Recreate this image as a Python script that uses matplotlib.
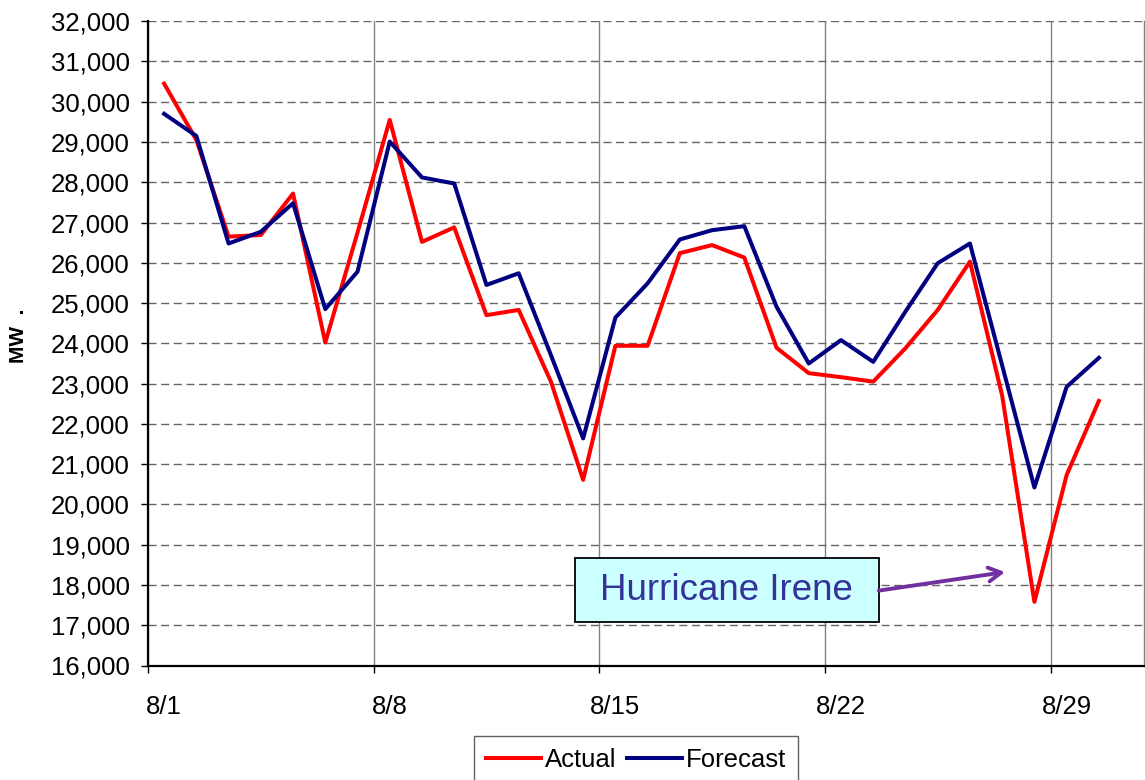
import numpy as np
import pandas as pd
import matplotlib
matplotlib.use('Agg')
from matplotlib import pyplot as plt
import matplotlib.dates as mdates
from matplotlib.patches import Rectangle
from matplotlib.ticker import FuncFormatter

plt.rcParams['font.family'] = ['Liberation Sans', 'DejaVu Sans']

# daily peak load, August 2011
dates = pd.date_range('2011-08-01', periods=30, freq='D')
actual = [30450, 29050, 26650, 26690, 27720, 24020, 26750, 29550, 26520, 26880,
          24700, 24830, 23050, 20610, 23940, 23940, 26240, 26440, 26130, 23890,
          23260, 23160, 23050, 23880, 24830, 26030, 22700, 17580, 20730, 22570]
forecast = [29700, 29150, 26480, 26770, 27480, 24850, 25780, 29010, 28120, 27970,
            25450, 25740, 23710, 21640, 24640, 25490, 26580, 26810, 26910, 24910,
            23500, 24080, 23540, 24790, 25990, 26480, 23450, 20420, 22920, 23640]
week_labels = ['8/1', '8/8', '8/15', '8/22', '8/29']
note = 'Hurricane Irene'

half_day = pd.Timedelta(hours=12)
x = dates + half_day

fig = plt.figure(figsize=(11.45, 7.8), dpi=100)
ax = fig.add_axes([148/1145, 1-665.5/780, (1144-148)/1145, (665.5-21.2)/780])

ax.plot(x, actual, color='#FF0000', lw=2.9, label='Actual', zorder=3)
ax.plot(x, forecast, color='#000080', lw=2.9, label='Forecast', zorder=4)

ax.set_ylim(16000, 32000)
ax.set_yticks(np.arange(16000, 32001, 1000))
ax.yaxis.set_major_formatter(FuncFormatter(lambda v, p: '{:,.0f}'.format(v)))
ax.set_xlim(dates[0], dates[0] + pd.Timedelta(days=30.9))

week_starts = pd.to_datetime(['2011-08-01', '2011-08-08', '2011-08-15',
                              '2011-08-22', '2011-08-29'])
ax.set_xticks(mdates.date2num(week_starts))
ax.set_xticklabels([])
ax.set_xticks(mdates.date2num(week_starts + half_day), minor=True)
ax.set_xticklabels(week_labels, minor=True)

ax.tick_params(axis='x', which='major', direction='out', length=5, width=1, color='#000000')
ax.tick_params(axis='x', which='minor', length=0, pad=21.5, labelsize=18.5)
ax.tick_params(axis='y', direction='out', length=5, width=1, pad=8, labelsize=18.5)

ax.grid(axis='y', color='#666666', lw=1.0, linestyle=(0, (5.8, 3.3)), zorder=1)
ax.grid(axis='x', which='major', color='#808080', lw=1.0, linestyle='-', zorder=1)

ax.spines['top'].set_visible(False)
ax.spines['right'].set_color('#808080')
ax.spines['right'].set_linewidth(1.0)
ax.spines['left'].set_linewidth(1.6)
ax.spines['bottom'].set_linewidth(1.6)

fig.text(18/1145, 1-336/780, 'MW  .', rotation=90, fontsize=15, fontweight='bold',
         ha='center', va='center')

# annotation box and arrow
to_x = lambda px: mdates.num2date(mdates.date2num(dates[0]) + (px - 148.9) / 32.2)
box_x0 = mdates.date2num(to_x(575))
box_x1 = mdates.date2num(to_x(879))
ax.add_patch(Rectangle((box_x0, 17080), box_x1 - box_x0, 18669 - 17080,
                       facecolor='#CCFFFF', edgecolor='#000000', lw=1.3, zorder=5))
ax.text((box_x0 + box_x1) / 2, 17870, note, color='#333399', fontsize=26.5,
        ha='center', va='center', zorder=6)
ax.annotate('', xy=(mdates.date2num(to_x(1005)), 18320),
            xytext=(box_x1, 17860),
            arrowprops=dict(arrowstyle='->,head_length=0.9,head_width=0.5',
                            lw=2.8, color='#7030A0', shrinkA=0, shrinkB=0),
            zorder=6)

leg = fig.legend(loc='upper center', bbox_to_anchor=(636/1145, 1-736/780), ncol=2,
                 fontsize=18.5, frameon=True, fancybox=False, framealpha=1,
                 edgecolor='#606060', handlelength=2.15, handletextpad=0.15,
                 columnspacing=0.4, borderpad=0.45, borderaxespad=0)
leg.get_frame().set_linewidth(1.0)

fig.savefig('out.png', dpi=100)
